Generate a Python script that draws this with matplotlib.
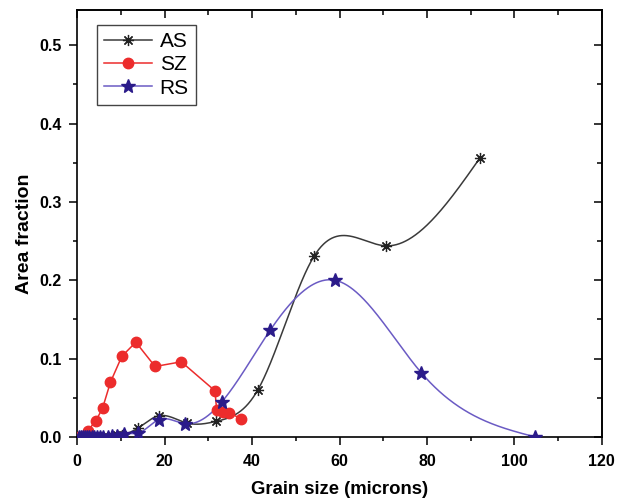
import numpy as np
import matplotlib
matplotlib.use("Agg")
import matplotlib.pyplot as plt
from matplotlib.ticker import MultipleLocator
from matplotlib.lines import Line2D

plt.rcParams['font.family'] = ['Liberation Sans', 'DejaVu Sans']

# ---- data ----
as_x = [0.3, 0.8, 1.3, 1.8, 2.3, 2.8, 3.3, 3.8, 4.5, 5.2, 6.0, 7.0, 8.0, 9.2, 10.3, 13.8, 18.6, 25.0, 31.8, 41.3, 54.2, 70.7, 92.1]
as_y = [0.0, 0.0, 0.0, 0.0, 0.0, 0.0, 0.0, 0.0, 0.0, 0.0, 0.0, 0.0, 0.001, 0.002, 0.003, 0.011, 0.027, 0.018, 0.020, 0.060, 0.231, 0.244, 0.356]

sz_x = [0.5, 1.2, 1.9, 2.4, 4.3, 5.8, 7.6, 10.2, 13.4, 17.8, 23.8, 31.5, 31.9, 33.4, 34.8, 37.5]
sz_y = [0.0, 0.0, 0.002, 0.008, 0.021, 0.037, 0.070, 0.103, 0.121, 0.090, 0.096, 0.059, 0.034, 0.032, 0.031, 0.023]

rs_x = [0.3, 0.8, 1.3, 1.8, 2.3, 2.8, 3.3, 3.8, 4.5, 5.2, 6.0, 7.0, 8.0, 9.0, 10.6, 14.0, 18.6, 24.7, 33.1, 44.1, 59.0, 78.7, 104.8]
rs_y = [0.0, 0.0, 0.0, 0.0, 0.0, 0.0, 0.0, 0.0, 0.0, 0.0, 0.0, 0.0, 0.001, 0.001, 0.004, 0.005, 0.022, 0.017, 0.045, 0.136, 0.200, 0.082, 0.0]

x_ticks = [0, 20, 40, 60, 80, 100, 120]
y_ticks = [0.0, 0.1, 0.2, 0.3, 0.4, 0.5]


def natural_spline(x, y, n=800):
    x = np.asarray(x, float)
    y = np.asarray(y, float)
    m = len(x)
    h = np.diff(x)
    A = np.zeros((m, m))
    b = np.zeros(m)
    A[0, 0] = 1
    A[-1, -1] = 1
    for i in range(1, m - 1):
        A[i, i - 1] = h[i - 1]
        A[i, i] = 2 * (h[i - 1] + h[i])
        A[i, i + 1] = h[i]
        b[i] = 3 * ((y[i + 1] - y[i]) / h[i] - (y[i] - y[i - 1]) / h[i - 1])
    c = np.linalg.solve(A, b)
    xs = np.linspace(x[0], x[-1], n)
    idx = np.clip(np.searchsorted(x, xs) - 1, 0, m - 2)
    dx = xs - x[idx]
    bb = (y[idx + 1] - y[idx]) / h[idx] - h[idx] * (2 * c[idx] + c[idx + 1]) / 3
    dd = (c[idx + 1] - c[idx]) / (3 * h[idx])
    ys = y[idx] + bb * dx + c[idx] * dx ** 2 + dd * dx ** 3
    return xs, ys


fig = plt.figure(figsize=(6.23, 5.0), dpi=100)
ax = fig.add_axes([0.124, 0.126, 0.842, 0.854])

as_line = '#3a3a3a'
sz_col = '#ec2c2c'
rs_line = '#6b5bc4'
rs_mark = '#2b1b8a'

sx, sy = natural_spline(as_x, as_y)
ax.plot(sx, sy, color=as_line, lw=1.1, zorder=2)
ax.plot(as_x, as_y, ls='none', marker=(8, 2, 0), ms=8, mec='#222222', mew=0.9, zorder=3)

ax.plot(sz_x, sz_y, color=sz_col, lw=1.1, marker='o', ms=7.5, mfc=sz_col, mec=sz_col, zorder=3)

rx, ry = natural_spline(rs_x, rs_y)
ax.plot(rx, ry, color=rs_line, lw=1.1, zorder=2)
ax.plot(rs_x, rs_y, ls='none', marker='*', ms=10, mfc=rs_mark, mec=rs_mark, zorder=4)

# legend proxies
h1 = Line2D([], [], color=as_line, lw=1.1, marker=(8, 2, 0), ms=8, mec='#222222', mew=0.9)
h2 = Line2D([], [], color=sz_col, lw=1.1, marker='o', ms=7.5, mfc=sz_col, mec=sz_col)
h3 = Line2D([], [], color=rs_line, lw=1.1, marker='*', ms=10, mfc=rs_mark, mec=rs_mark)
leg = ax.legend([h1, h2, h3], ['AS', 'SZ', 'RS'], loc='upper left',
                bbox_to_anchor=(0.038, 0.965), borderaxespad=0,
                fancybox=False, framealpha=1,
                edgecolor='#444444', fontsize=15, handlelength=2.3,
                borderpad=0.35, labelspacing=0.2, handletextpad=0.35)
leg.get_frame().set_linewidth(1.0)

ax.set_xlim(0, 120)
ax.set_ylim(0, 0.545)
ax.set_xticks(x_ticks)
ax.set_yticks(y_ticks)
ax.set_xticklabels([str(v) for v in x_ticks], fontweight='bold', fontsize=11.5)
ax.set_yticklabels(['%.1f' % v for v in y_ticks], fontweight='bold', fontsize=11.5)
ax.xaxis.set_minor_locator(MultipleLocator(10))
ax.yaxis.set_minor_locator(MultipleLocator(0.05))
ax.tick_params(which='major', direction='out', length=6, width=1.1)
ax.tick_params(axis='x', which='major', pad=6)
ax.tick_params(axis='y', which='major', pad=5)
ax.tick_params(which='minor', direction='out', length=3, width=1.1)

for s in ax.spines.values():
    s.set_linewidth(1.2)

top = ax.secondary_xaxis('top')
top.set_xticks(x_ticks)
top.xaxis.set_minor_locator(MultipleLocator(10))
top.tick_params(which='major', direction='in', length=6, width=1.1, labeltop=False)
top.tick_params(which='minor', direction='in', length=3.5, width=1.1)
top.spines['top'].set_linewidth(1.2)

right = ax.secondary_yaxis('right')
right.set_yticks(y_ticks)
right.yaxis.set_minor_locator(MultipleLocator(0.05))
right.tick_params(which='major', direction='in', length=6, width=1.1, labelright=False)
right.tick_params(which='minor', direction='in', length=3.5, width=1.1)
right.spines['right'].set_linewidth(1.2)

ax.set_xlabel('Grain size (microns)', fontweight='bold', fontsize=13.3, labelpad=9)
ax.set_ylabel('Area fraction', fontweight='bold', fontsize=14)
ax.yaxis.set_label_coords(-0.084, 0.475)

fig.savefig('out.png', dpi=100)
